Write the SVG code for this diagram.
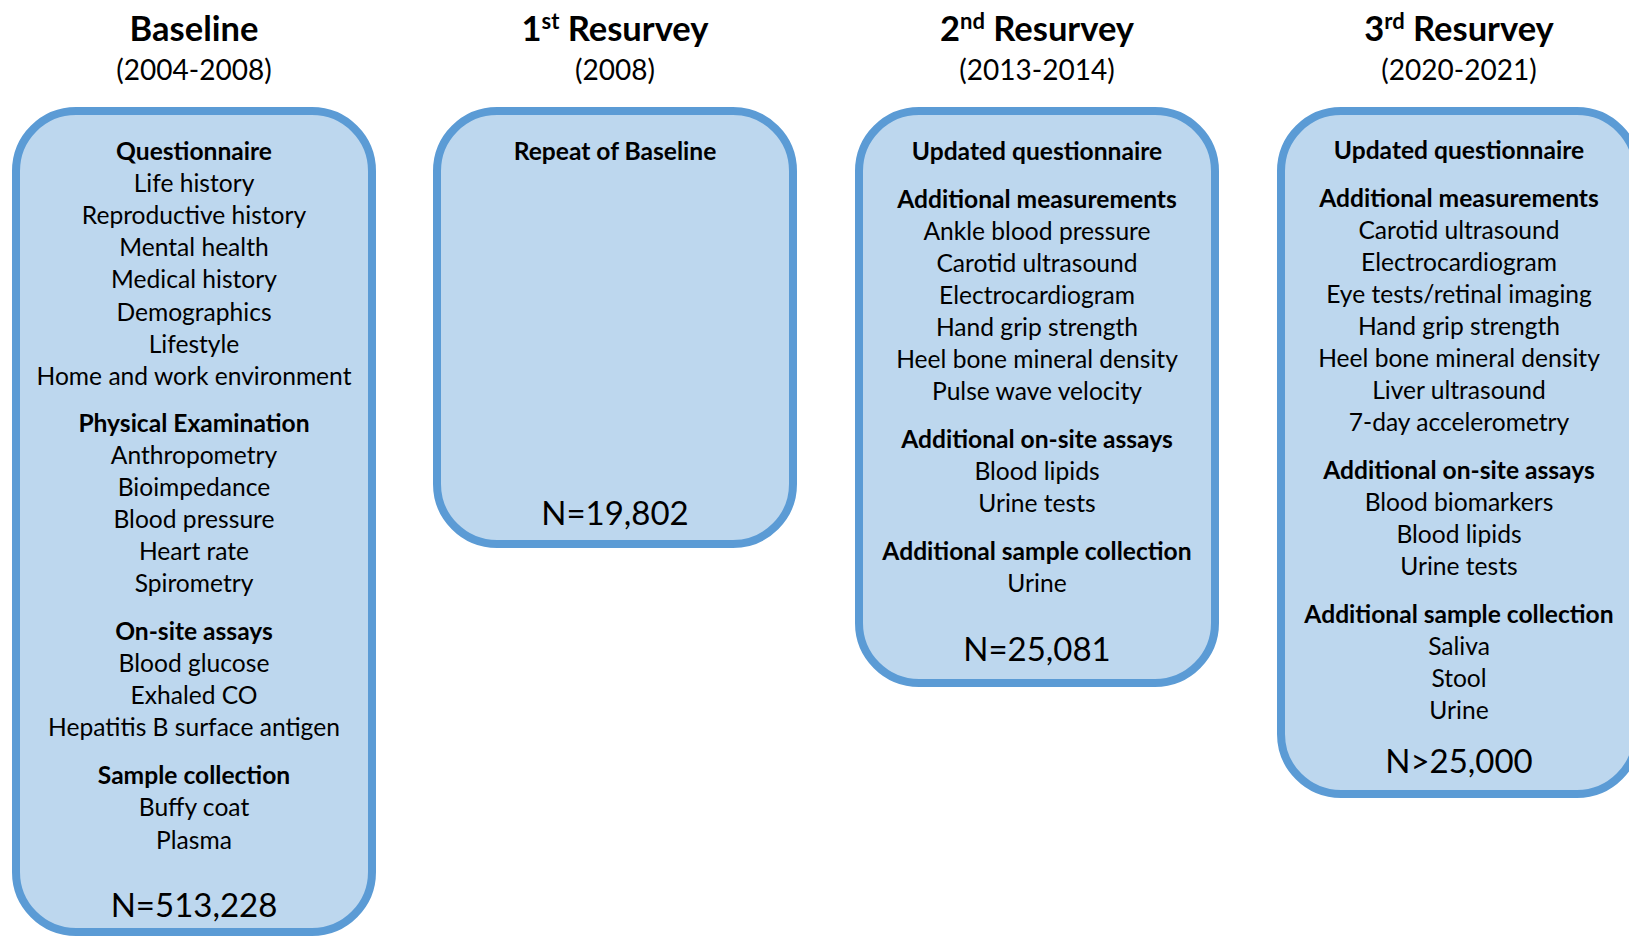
<svg xmlns="http://www.w3.org/2000/svg" width="1629" height="938" viewBox="0 0 1629 938">
<style>
.box{fill:#BDD7EE;stroke:#5B9BD5;stroke-width:8}
text{font-family:Lato,"Liberation Sans",sans-serif;fill:#000;text-anchor:middle}
.t{font-size:34.5px;font-weight:bold}
.y{font-size:28px}
.h{font-size:24.6px;font-weight:bold}
.r{font-size:24.6px}
.n{font-size:33px}
</style>
<rect width="1629" height="938" fill="#fff"/>
<g id="connectors"/>
<g id="baseline">
<text class="t" x="194" y="40.5">Baseline</text>
<text class="y" x="194" y="80">(2004-2008)</text>
<rect class="box" x="16" y="111" width="356" height="821" rx="60"/>
<g transform="translate(0,1.5)">
<text class="h" x="194" y="158">Questionnaire</text>
<text class="r" x="194" y="190">Life history</text>
<text class="r" x="194" y="222">Reproductive history</text>
<text class="r" x="194" y="254.5">Mental health</text>
<text class="r" x="194" y="286.5">Medical history</text>
<text class="r" x="194" y="319">Demographics</text>
<text class="r" x="194" y="351">Lifestyle</text>
<text class="r" x="194" y="383">Home and work environment</text>
<text class="h" x="194" y="430">Physical Examination</text>
<text class="r" x="194" y="462.5">Anthropometry</text>
<text class="r" x="194" y="494.5">Bioimpedance</text>
<text class="r" x="194" y="526.5">Blood pressure</text>
<text class="r" x="194" y="558.5">Heart rate</text>
<text class="r" x="194" y="590.5">Spirometry</text>
<text class="h" x="194" y="638">On-site assays</text>
<text class="r" x="194" y="670">Blood glucose</text>
<text class="r" x="194" y="702.5">Exhaled CO</text>
<text class="r" x="194" y="734.5">Hepatitis B surface antigen</text>
<text class="h" x="194" y="782.5">Sample collection</text>
<text class="r" x="194" y="814.5">Buffy coat</text>
<text class="r" x="194" y="847">Plasma</text>
<text class="n" x="194" y="915">N=513,228</text>
</g>
</g>
<g id="resurvey1">
<text class="t" x="615" y="40.5">1<tspan font-size="22" dy="-12">st</tspan><tspan dy="12"> Resurvey</tspan></text>
<text class="y" x="615" y="80">(2008)</text>
<rect class="box" x="437" y="111" width="356" height="433" rx="60"/>
<g transform="translate(0,1.5)">
<text class="h" x="615" y="158">Repeat of Baseline</text>
<text class="n" x="615" y="523">N=19,802</text>
</g>
</g>
<g id="resurvey2">
<text class="t" x="1037" y="40.5">2<tspan font-size="22" dy="-12">nd</tspan><tspan dy="12"> Resurvey</tspan></text>
<text class="y" x="1037" y="80">(2013-2014)</text>
<rect class="box" x="859" y="111" width="356" height="572" rx="60"/>
<g transform="translate(0,1.5)">
<text class="h" x="1037" y="158">Updated questionnaire</text>
<text class="h" x="1037" y="206">Additional measurements</text>
<text class="r" x="1037" y="238">Ankle blood pressure</text>
<text class="r" x="1037" y="270.5">Carotid ultrasound</text>
<text class="r" x="1037" y="302.5">Electrocardiogram</text>
<text class="r" x="1037" y="334.5">Hand grip strength</text>
<text class="r" x="1037" y="366">Heel bone mineral density</text>
<text class="r" x="1037" y="398">Pulse wave velocity</text>
<text class="h" x="1037" y="446">Additional on-site assays</text>
<text class="r" x="1037" y="478">Blood lipids</text>
<text class="r" x="1037" y="510">Urine tests</text>
<text class="h" x="1037" y="558">Additional sample collection</text>
<text class="r" x="1037" y="590">Urine</text>
<text class="n" x="1037" y="659">N=25,081</text>
</g>
</g>
<g id="resurvey3">
<text class="t" x="1459" y="40.5">3<tspan font-size="22" dy="-12">rd</tspan><tspan dy="12"> Resurvey</tspan></text>
<text class="y" x="1459" y="80">(2020-2021)</text>
<rect class="box" x="1281" y="111" width="356" height="683" rx="60"/>
<g transform="translate(0,1.5)">
<text class="h" x="1459" y="157">Updated questionnaire</text>
<text class="h" x="1459" y="205">Additional measurements</text>
<text class="r" x="1459" y="237">Carotid ultrasound</text>
<text class="r" x="1459" y="269">Electrocardiogram</text>
<text class="r" x="1459" y="301.5">Eye tests/retinal imaging</text>
<text class="r" x="1459" y="333.5">Hand grip strength</text>
<text class="r" x="1459" y="365">Heel bone mineral density</text>
<text class="r" x="1459" y="397">Liver ultrasound</text>
<text class="r" x="1459" y="429">7-day accelerometry</text>
<text class="h" x="1459" y="477">Additional on-site assays</text>
<text class="r" x="1459" y="509">Blood biomarkers</text>
<text class="r" x="1459" y="541.5">Blood lipids</text>
<text class="r" x="1459" y="573.5">Urine tests</text>
<text class="h" x="1459" y="621.5">Additional sample collection</text>
<text class="r" x="1459" y="653.5">Saliva</text>
<text class="r" x="1459" y="685">Stool</text>
<text class="r" x="1459" y="717">Urine</text>
<text class="n" x="1459" y="771">N&gt;25,000</text>
</g>
</g>
</svg>
